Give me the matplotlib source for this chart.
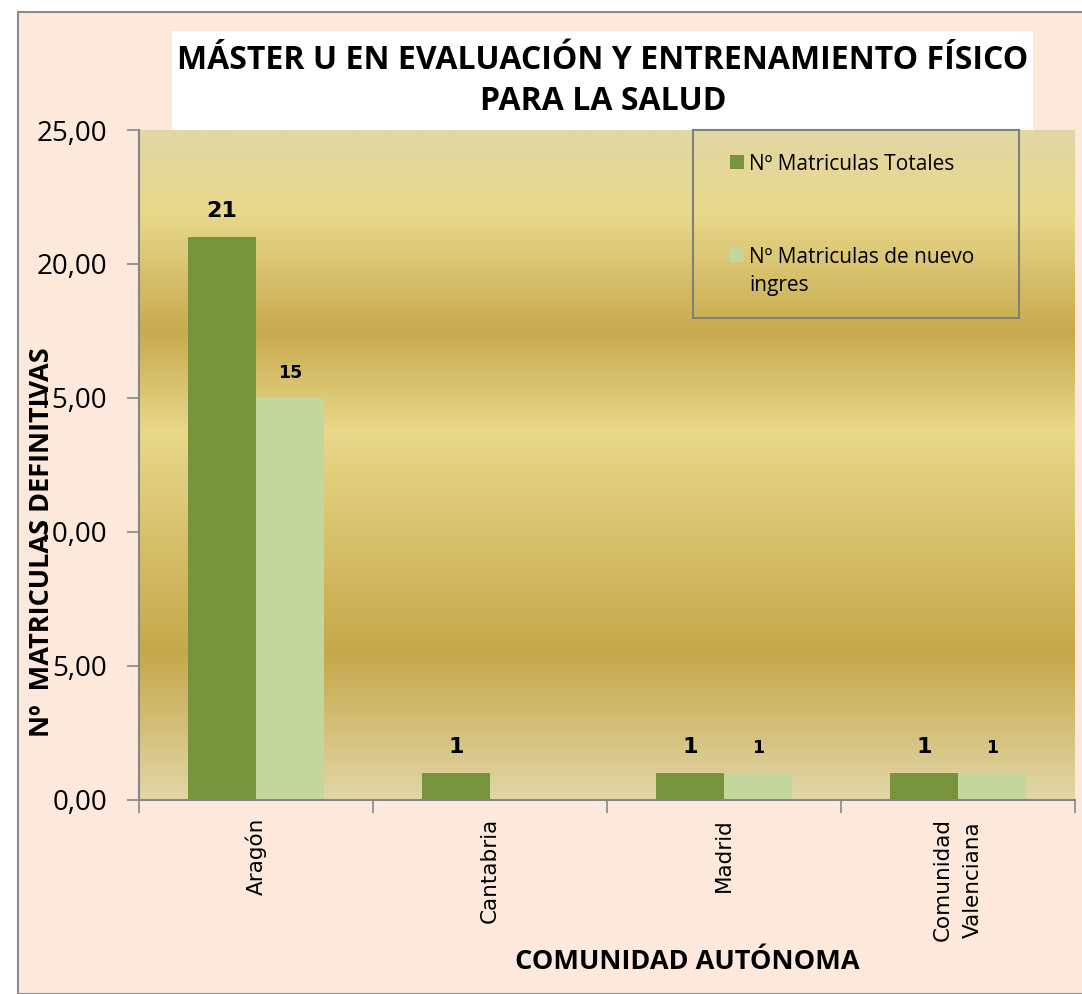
import numpy as np
import matplotlib
matplotlib.use("Agg")
import matplotlib.pyplot as plt
from matplotlib.colors import LinearSegmentedColormap
from matplotlib.patches import Rectangle
from matplotlib.ticker import FuncFormatter

regiones = ['Aragón', 'Cantabria', 'Madrid', 'Comunidad\nValenciana']
totales = [21, 1, 1, 1]
nuevo_ingreso = [15, 0, 1, 1]
etiquetas_nuevo = ['15', '', '1', '1']
series = ['Nº Matriculas Totales', 'Nº Matriculas de nuevo\ningres']

verde_osc = '#77933C'
verde_cla = '#C3D69B'
fondo = '#FDE9DB'

W, H = 1082, 994
fig = plt.figure(figsize=(10.82, 9.94), dpi=100)
fig.patch.set_facecolor('white')
# marco exterior
fig.patches.append(Rectangle((18/W, 0), 1.0, 1 - 12/H, transform=fig.transFigure,
                             facecolor=fondo, edgecolor='#8c8c8c', lw=1.5, zorder=-10))

ax = fig.add_axes([139/W, 194/H, 936/W, 670/H])
ax.set_facecolor('none')

# degradado dorado del area de trazado
cmap = LinearSegmentedColormap.from_list('oro', [
    (0.0, '#E2D6A4'), (0.12, '#E8D98C'), (0.30, '#C8AA4E'),
    (0.45, '#E8D88A'), (0.78, '#C5A84A'), (1.0, '#E2D6A6')])
grad = np.linspace(0, 1, 256).reshape(-1, 1)
ax.imshow(grad, cmap=cmap, aspect='auto', extent=[-0.5, 3.5, 0, 25], zorder=0)

x = np.arange(len(regiones))
w = 0.29
ax.bar(x - w/2, totales, w, color=verde_osc, zorder=2)
ax.bar(x + w/2, nuevo_ingreso, w, color=verde_cla, zorder=2)

for i in range(len(regiones)):
    ax.text(x[i] - w/2, totales[i] + 0.6, str(totales[i]), ha='center', va='bottom',
            fontsize=16, fontweight='bold', zorder=3)
    if etiquetas_nuevo[i]:
        ax.text(x[i] + w/2, nuevo_ingreso[i] + 0.6, etiquetas_nuevo[i], ha='center', va='bottom',
                fontsize=12.5, fontweight='bold', zorder=3)

ax.set_xlim(-0.5, 3.5)
ax.set_ylim(0, 25)
ax.set_yticks([0, 5, 10, 15, 20, 25])
ax.yaxis.set_major_formatter(FuncFormatter(lambda v, p: ('%.2f' % v).replace('.', ',')))
ax.set_xticks(np.arange(-0.5, 4, 1))
ax.set_xticklabels([])
ax.set_xticks(x, minor=True)
ax.set_xticklabels(regiones, minor=True, rotation=90, va='top', ha='center',
                   fontsize=15.5, family='DejaVu Sans', linespacing=1.65)
ax.tick_params(axis='x', which='minor', length=0, pad=13)
ax.tick_params(axis='x', which='major', length=9, color='#868686', width=1.2)
ax.tick_params(axis='y', length=9, color='#868686', width=1.2, labelsize=20, pad=14)
for lab in ax.get_yticklabels():
    lab.set_family('Open Sans')
for s in ['top', 'right']:
    ax.spines[s].set_visible(False)
for s in ['left', 'bottom']:
    ax.spines[s].set_color('#868686')
    ax.spines[s].set_linewidth(1.5)
ax.spines['bottom'].set_zorder(4)

ax.set_ylabel('Nº  MATRICULAS DEFINITIVAS', fontsize=19.5, fontweight='bold', family='Open Sans')
ax.yaxis.set_label_coords(-0.09, 0.385)
ax.set_xlabel('COMUNIDAD AUTÓNOMA', fontsize=19.5, fontweight='bold', family='Open Sans')
ax.xaxis.set_label_coords(0.586, -0.222)

# titulo en caja blanca
fig.patches.append(Rectangle((172/W, 1 - 130/H), 861/W, 99/H, transform=fig.transFigure,
                             facecolor='white', edgecolor='none', zorder=1))
fig.text(603/W, 1 - 81/H, 'MÁSTER U EN EVALUACIÓN Y ENTRENAMIENTO FÍSICO\nPARA LA SALUD',
         ha='center', va='center', fontsize=23, fontweight='bold', family='Open Sans',
         linespacing=1.3, zorder=2)

# leyenda
fig.patches.append(Rectangle((693/W, 1 - 318/H), 326/W, 188/H, transform=fig.transFigure,
                             facecolor='none', edgecolor='#7f7f7f', lw=1.5, zorder=5))
leg_y = [162, 255]
for color, texto, yy in zip([verde_osc, verde_cla], series, leg_y):
    fig.patches.append(Rectangle((730/W, 1 - (yy + 7)/H), 14/W, 14/H, transform=fig.transFigure,
                                 facecolor=color, edgecolor='none', zorder=5))
    fig.text(749/W, 1 - (yy - 8)/H, texto, ha='left', va='top', fontsize=15,
             family='Open Sans', linespacing=1.45, zorder=5)

fig.savefig('out.png', dpi=100)
